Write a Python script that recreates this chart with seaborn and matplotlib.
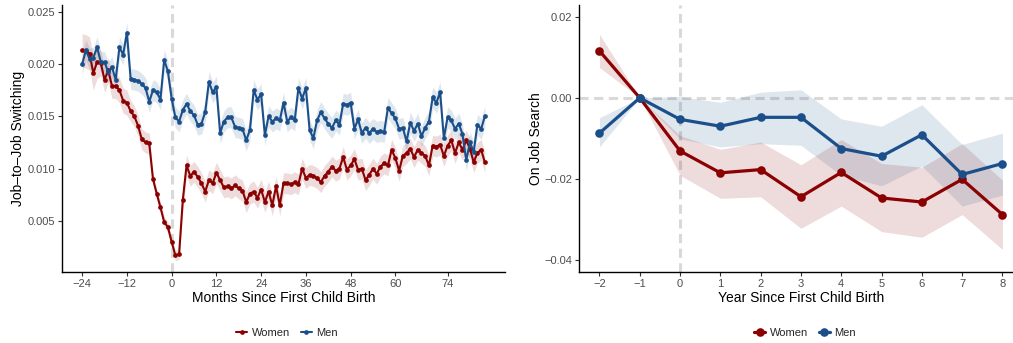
import numpy as np
import pandas as pd
import matplotlib
matplotlib.use("Agg")
import matplotlib.pyplot as plt
from matplotlib.lines import Line2D
import seaborn as sns

# ---------------- data: left panel (monthly) ----------------
months = list(range(-24, 85))

women_monthly = [
    0.0213, 0.0212, 0.0210, 0.0191, 0.0202, 0.0201, 0.0185, 0.0194, 0.0179, 0.0179,
    0.0175, 0.0165, 0.0163, 0.0155, 0.0150, 0.0141, 0.0128, 0.0125, 0.0124, 0.0090,
    0.0076, 0.0063, 0.0049, 0.0044, 0.0030, 0.0017, 0.0018, 0.0070, 0.0103, 0.0093,
    0.0097, 0.0092, 0.0086, 0.0078, 0.0089, 0.0086, 0.0096, 0.0089, 0.0082, 0.0083,
    0.0081, 0.0084, 0.0081, 0.0079, 0.0068, 0.0076, 0.0078, 0.0072, 0.0080, 0.0068,
    0.0078, 0.0065, 0.0083, 0.0065, 0.0086, 0.0086, 0.0085, 0.0087, 0.0085, 0.0100,
    0.0091, 0.0094, 0.0093, 0.0091, 0.0087, 0.0093, 0.0097, 0.0102, 0.0098, 0.0100,
    0.0111, 0.0099, 0.0103, 0.0109, 0.0099, 0.0100, 0.0089, 0.0094, 0.0100, 0.0095,
    0.0102, 0.0105, 0.0103, 0.0118, 0.0110, 0.0098, 0.0112, 0.0115, 0.0119, 0.0111,
    0.0118, 0.0115, 0.0112, 0.0103, 0.0122, 0.0121, 0.0123, 0.0112, 0.0122, 0.0127,
    0.0115, 0.0125, 0.0118, 0.0127, 0.0119, 0.0106, 0.0115, 0.0118, 0.0106,
]

men_monthly = [
    0.0200, 0.0213, 0.0205, 0.0206, 0.0216, 0.0202, 0.0202, 0.0192, 0.0197, 0.0185,
    0.0216, 0.0209, 0.0230, 0.0186, 0.0185, 0.0184, 0.0181, 0.0177, 0.0164, 0.0175,
    0.0173, 0.0166, 0.0204, 0.0193, 0.0167, 0.0149, 0.0145, 0.0156, 0.0162, 0.0155,
    0.0151, 0.0142, 0.0143, 0.0154, 0.0183, 0.0173, 0.0178, 0.0134, 0.0145, 0.0149,
    0.0149, 0.0140, 0.0139, 0.0138, 0.0127, 0.0137, 0.0175, 0.0166, 0.0171, 0.0132,
    0.0150, 0.0145, 0.0148, 0.0146, 0.0163, 0.0145, 0.0149, 0.0146, 0.0177, 0.0167,
    0.0177, 0.0137, 0.0129, 0.0146, 0.0154, 0.0148, 0.0143, 0.0139, 0.0146, 0.0142,
    0.0162, 0.0161, 0.0163, 0.0138, 0.0147, 0.0134, 0.0139, 0.0134, 0.0138, 0.0135,
    0.0136, 0.0135, 0.0158, 0.0153, 0.0148, 0.0138, 0.0139, 0.0126, 0.0144, 0.0136,
    0.0143, 0.0131, 0.0139, 0.0145, 0.0168, 0.0163, 0.0173, 0.0129, 0.0149, 0.0146,
    0.0138, 0.0143, 0.0133, 0.0108, 0.0125, 0.0116, 0.0142, 0.0138, 0.0150,
]

# half-widths of the confidence bands
women_monthly_ci = [0.0016] * 5 + [0.0012] * 8 + [0.0010] * 6 + [0.0005] * 8 + [0.0010] * 82
men_monthly_ci = [0.0010] * 109

month_ticks = [-24, -12, 0, 12, 24, 36, 48, 60, 74]
month_tick_labels = ["\u221224", "\u221212", "0", "12", "24", "36", "48", "60", "74"]
left_yticks = [0.005, 0.010, 0.015, 0.020, 0.025]
left_ytick_labels = ["0.005", "0.010", "0.015", "0.020", "0.025"]

# ---------------- data: right panel (yearly) ----------------
years = [-2, -1, 0, 1, 2, 3, 4, 5, 6, 7, 8]
women_yearly = [0.0116, 0.0, -0.0131, -0.0185, -0.0177, -0.0244, -0.0184, -0.0247, -0.0257, -0.0201, -0.0288]
women_yearly_lo = [0.0075, 0.0, -0.0191, -0.0248, -0.0244, -0.0322, -0.0267, -0.0330, -0.0344, -0.0288, -0.0374]
women_yearly_hi = [0.0157, 0.0, -0.0093, -0.0127, -0.0109, -0.0165, -0.0103, -0.0162, -0.0171, -0.0113, -0.0203]
men_yearly = [-0.0087, 0.0, -0.0053, -0.0070, -0.0048, -0.0048, -0.0125, -0.0144, -0.0091, -0.0189, -0.0162]
men_yearly_lo = [-0.0121, 0.0, -0.0101, -0.0121, -0.0113, -0.0117, -0.0191, -0.0217, -0.0168, -0.0267, -0.0240]
men_yearly_hi = [-0.0049, 0.0, 0.0003, -0.0011, 0.0014, 0.0020, -0.0052, -0.0070, -0.0017, -0.0115, -0.0087]

year_ticks = [-2, -1, 0, 1, 2, 3, 4, 5, 6, 7, 8]
year_tick_labels = ["\u22122", "\u22121", "0", "1", "2", "3", "4", "5", "6", "7", "8"]
right_yticks = [-0.04, -0.02, 0.0, 0.02]
right_ytick_labels = ["\u22120.04", "\u22120.02", "0.00", "0.02"]

groups = ["Women", "Men"]

# ---------------- style ----------------
sns.set_theme(style="ticks")
plt.rcParams["font.family"] = ["Liberation Sans", "DejaVu Sans"]

RED = "#8B0000"
BLUE = "#1B4F8A"
palette = {"Women": RED, "Men": BLUE}
TICK_COL = "#4D4D4D"
DASH_COL = "#D9D9D9"

W, H = 1013, 343
fig = plt.figure(figsize=(W / 100, H / 100), dpi=100)

def px_axes(x0, x1, ytop, ybot):
    return fig.add_axes([x0 / W, 1 - ybot / H, (x1 - x0) / W, (ybot - ytop) / H])

ax1 = px_axes(62, 505, 4.7, 271.7)
ax2 = px_axes(579.3, 1022.6, 4.7, 271.7)

# ---------------- left panel ----------------
df_m = pd.DataFrame({
    "month": months * 2,
    "value": women_monthly + men_monthly,
    "ci": women_monthly_ci + men_monthly_ci,
    "group": ["Women"] * len(months) + ["Men"] * len(months),
})

ax1.axvline(0, color=DASH_COL, lw=2.2, dashes=(3, 1.8), zorder=0)
for g in groups:
    sub = df_m[df_m["group"] == g]
    ax1.fill_between(sub["month"], sub["value"] - sub["ci"], sub["value"] + sub["ci"],
                     color=palette[g], alpha=0.14, lw=0, zorder=1)
sns.lineplot(data=df_m, x="month", y="value", hue="group", hue_order=groups,
             palette=palette, marker="o", markersize=3.4, markeredgewidth=0,
             linewidth=1.5, legend=False, ax=ax1, zorder=3)

ax1.set_xlim(-29.4, 89.4)
ax1.set_ylim(0.000143, 0.02567)
ax1.set_xticks(month_ticks)
ax1.set_xticklabels(month_tick_labels)
ax1.set_yticks(left_yticks)
ax1.set_yticklabels(left_ytick_labels)
ax1.set_xlabel("Months Since First Child Birth", fontsize=10, color="black", labelpad=2)
ax1.set_ylabel("Job\u2013to\u2013Job Switching", fontsize=10, color="black", labelpad=2)

# ---------------- right panel ----------------
df_y = pd.DataFrame({
    "year": years * 2,
    "value": women_yearly + men_yearly,
    "lo": women_yearly_lo + men_yearly_lo,
    "hi": women_yearly_hi + men_yearly_hi,
    "group": ["Women"] * len(years) + ["Men"] * len(years),
})

ax2.axvline(0, color=DASH_COL, lw=2.2, dashes=(3, 1.8), zorder=0)
ax2.axhline(0, color=DASH_COL, lw=2.2, dashes=(3, 1.8), zorder=0)
for g in groups:
    sub = df_y[df_y["group"] == g]
    ax2.fill_between(sub["year"], sub["lo"], sub["hi"], color=palette[g], alpha=0.14, lw=0, zorder=1)
sns.lineplot(data=df_y, x="year", y="value", hue="group", hue_order=groups,
             palette=palette, marker="o", markersize=6.2, markeredgewidth=0,
             linewidth=2.3, legend=False, ax=ax2, zorder=3)

ax2.set_xlim(-2.5, 8.5)
ax2.set_ylim(-0.0429, 0.0230)
ax2.set_xticks(year_ticks)
ax2.set_xticklabels(year_tick_labels)
ax2.set_yticks(right_yticks)
ax2.set_yticklabels(right_ytick_labels)
ax2.set_xlabel("Year Since First Child Birth", fontsize=10, color="black", labelpad=2)
ax2.set_ylabel("On Job Search", fontsize=10, color="black", labelpad=1)

for ax in (ax1, ax2):
    sns.despine(ax=ax)
    for s in ("left", "bottom"):
        ax.spines[s].set_color("black")
        ax.spines[s].set_linewidth(1.0)
    ax.tick_params(axis="both", which="major", length=3, width=0.8, color="#333333",
                   labelsize=8, labelcolor=TICK_COL, pad=2)

# ---------------- legends ----------------
def make_handles(ms, lw):
    return [Line2D([0], [0], color=palette[g], marker="o", markersize=ms,
                   markeredgewidth=0, linewidth=lw) for g in groups]

fig.legend(make_handles(3.4, 1.5), groups, loc="center", bbox_to_anchor=(287 / W, 1 - 333 / H),
           ncol=2, frameon=False, fontsize=8, handlelength=1.0, handletextpad=0.4,
           columnspacing=1.0)
fig.legend(make_handles(6.2, 2.3), groups, loc="center", bbox_to_anchor=(805 / W, 1 - 333 / H),
           ncol=2, frameon=False, fontsize=8, handlelength=1.0, handletextpad=0.4,
           columnspacing=1.0)

fig.savefig("out.png", dpi=100)
